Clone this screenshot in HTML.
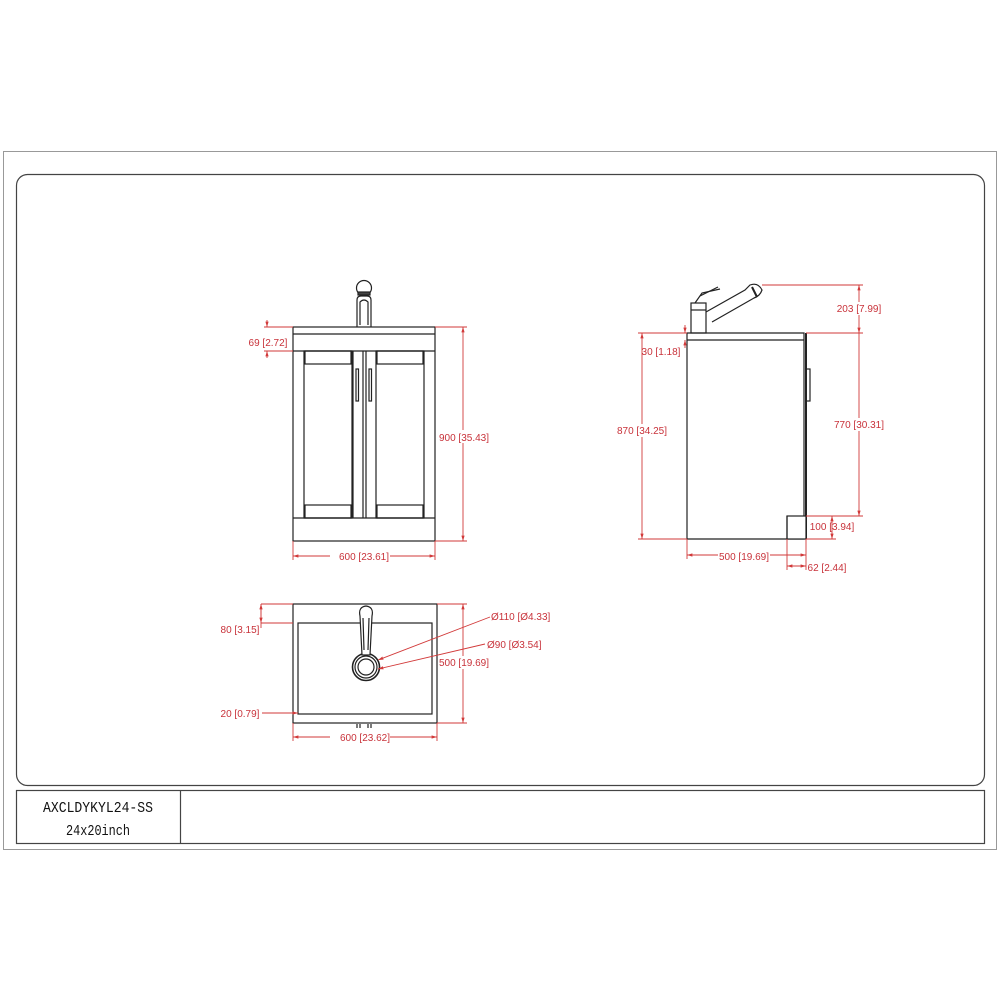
<!DOCTYPE html>
<html><head><meta charset="utf-8"><style>
html,body{margin:0;padding:0;background:#fff;}
svg{display:block;}
.r{fill:#c8323a;font-family:"Liberation Sans",sans-serif;font-size:10px;}
.d{stroke:#d23a3a;stroke-width:0.9;fill:none;}
.k{stroke:#222;stroke-width:1.2;fill:none;}
.t{font-family:"Liberation Mono",monospace;font-size:15px;fill:#111;}
</style></head><body>
<svg width="1000" height="1000" viewBox="0 0 1000 1000" xmlns="http://www.w3.org/2000/svg">
<defs>
<marker id="a" viewBox="0 0 10 10" refX="10" refY="5" markerWidth="6" markerHeight="6" orient="auto-start-reverse"><path d="M0,2 L10,5 L0,8z" fill="#d23a3a"/></marker>
</defs>
<rect x="3.5" y="151.5" width="993" height="698" fill="none" stroke="#999" stroke-width="1"/>
<rect x="16.5" y="174.5" width="968" height="611" rx="11" fill="none" stroke="#444" stroke-width="1.2"/>
<rect x="16.5" y="790.5" width="968" height="53" fill="none" stroke="#444" stroke-width="1.2"/>
<line x1="180.5" y1="790" x2="180.5" y2="843" stroke="#444" stroke-width="1.2"/>
<text class="t" x="98" y="812" text-anchor="middle" textLength="110" lengthAdjust="spacingAndGlyphs">AXCLDYKYL24-SS</text>
<text class="t" x="98" y="835" text-anchor="middle" textLength="64" lengthAdjust="spacingAndGlyphs">24x20inch</text>

<!-- FRONT VIEW -->
<g class="k">
<rect x="293" y="327" width="142" height="214"/>
<line x1="293" y1="334" x2="435" y2="334"/>
<line x1="293" y1="351" x2="435" y2="351"/>
<line x1="293" y1="518" x2="435" y2="518"/>
<rect x="304" y="351" width="48" height="167"/>
<rect x="305" y="351" width="46" height="13"/>
<rect x="305" y="505" width="46" height="13"/>
<rect x="376" y="351" width="48" height="167"/>
<rect x="377" y="351" width="46" height="13"/>
<rect x="377" y="505" width="46" height="13"/>
<line x1="353" y1="351" x2="353" y2="518"/>
<line x1="363" y1="351" x2="363" y2="518"/>
<line x1="366" y1="351" x2="366" y2="518"/>
<rect x="356" y="369" width="2.5" height="32"/>
<rect x="369" y="369" width="2.5" height="32"/>
<path d="M357,327 L357,300 Q357,296 361,296 L367,296 Q371,296 371,300 L371,327"/>
<path d="M360,325 L360,302 Q364,298 368,302 L368,325"/>
<circle cx="364" cy="288" r="7.5"/>
<rect x="358" y="292" width="12" height="3" fill="#444"/>
</g>
<g class="d">
<line x1="435" y1="327" x2="467" y2="327"/><line x1="435" y1="541" x2="467" y2="541"/>
<line x1="463" y1="327" x2="463" y2="541" marker-start="url(#a)" marker-end="url(#a)"/>
<line x1="293" y1="541" x2="293" y2="560"/><line x1="435" y1="541" x2="435" y2="560"/>
<line x1="293" y1="556" x2="435" y2="556" marker-start="url(#a)" marker-end="url(#a)"/>
<line x1="264" y1="327" x2="293" y2="327"/><line x1="264" y1="351" x2="293" y2="351"/>
<line x1="267" y1="320" x2="267" y2="327" marker-end="url(#a)"/>
<line x1="267" y1="358" x2="267" y2="351" marker-end="url(#a)"/>
</g>
<rect x="440" y="430" width="50" height="13" fill="#fff"/>
<text class="r" x="464" y="441" text-anchor="middle">900 [35.43]</text>
<rect x="330" y="550" width="60" height="13" fill="#fff"/>
<text class="r" x="364" y="560" text-anchor="middle">600 [23.61]</text>
<text class="r" x="268" y="346" text-anchor="middle">69 [2.72]</text>

<!-- SIDE VIEW -->
<g class="k">
<path d="M687,333 L804,333 L804,539 L687,539 Z"/>
<line x1="687" y1="340" x2="804" y2="340"/>
<line x1="806" y1="333" x2="806" y2="539" stroke-width="2"/>
<rect x="806" y="369" width="4" height="32"/>
<rect x="787" y="516" width="19" height="23" fill="#fff"/>
<line x1="787" y1="516" x2="787" y2="539"/>
<rect x="691" y="303" width="15" height="30"/>
<line x1="691" y1="310" x2="706" y2="310"/>
<path d="M706,312 L745,290 L750,285 Q758,282 762,290 Q760,296 754,298 L712,322"/>
<path d="M752,287 L757,297" stroke-width="2"/>
<path d="M695,303 L702,293 L720,289"/>
<path d="M700,296 L718,287"/>
</g>
<g class="d">
<line x1="762" y1="285" x2="863" y2="285"/><line x1="806" y1="333" x2="863" y2="333"/>
<line x1="859" y1="285" x2="859" y2="333" marker-start="url(#a)" marker-end="url(#a)"/>
<line x1="859" y1="333" x2="859" y2="516" marker-end="url(#a)"/>
<line x1="806" y1="516" x2="863" y2="516"/><line x1="806" y1="539" x2="836" y2="539"/>
<line x1="832" y1="516" x2="832" y2="539" marker-start="url(#a)" marker-end="url(#a)"/>
<line x1="638" y1="333" x2="687" y2="333"/><line x1="638" y1="539" x2="687" y2="539"/>
<line x1="642" y1="333" x2="642" y2="539" marker-start="url(#a)" marker-end="url(#a)"/>
<line x1="685" y1="325" x2="685" y2="333" marker-end="url(#a)"/>
<line x1="685" y1="348" x2="685" y2="340" marker-end="url(#a)"/>
<line x1="687" y1="539" x2="687" y2="559"/><line x1="806" y1="539" x2="806" y2="570"/>
<line x1="787" y1="539" x2="787" y2="570"/>
<line x1="687" y1="555" x2="806" y2="555" marker-start="url(#a)" marker-end="url(#a)"/>
<line x1="787" y1="566" x2="806" y2="566" marker-start="url(#a)" marker-end="url(#a)"/>
</g>
<rect x="834" y="302" width="50" height="13" fill="#fff"/>
<text class="r" x="859" y="312" text-anchor="middle">203 [7.99]</text>
<rect x="832" y="418" width="54" height="13" fill="#fff"/>
<text class="r" x="859" y="428" text-anchor="middle">770 [30.31]</text>
<text class="r" x="832" y="530" text-anchor="middle">100 [3.94]</text>
<rect x="617" y="424" width="52" height="13" fill="#fff"/>
<text class="r" x="642" y="434" text-anchor="middle">870 [34.25]</text>
<text class="r" x="661" y="355" text-anchor="middle">30 [1.18]</text>
<rect x="718" y="550" width="52" height="13" fill="#fff"/>
<text class="r" x="744" y="560" text-anchor="middle">500 [19.69]</text>
<text class="r" x="827" y="571" text-anchor="middle">62 [2.44]</text>

<!-- TOP VIEW -->
<g class="k">
<rect x="293" y="604" width="144" height="119"/>
<rect x="298" y="623" width="134" height="91"/>
<circle cx="366" cy="667" r="13.5" stroke-width="1.6"/>
<circle cx="366" cy="667" r="11"/>
<circle cx="366" cy="667" r="8"/>
<path d="M360,616 Q358,607 366,606 Q374,607 372,616 L370,655 L362,655 Z" fill="#fff"/>
<path d="M363,618 L364,650 M369,618 L368,650"/>
<line x1="357" y1="724" x2="357" y2="728"/><line x1="360" y1="724" x2="360" y2="728"/>
<line x1="368" y1="724" x2="368" y2="728"/><line x1="371" y1="724" x2="371" y2="728"/>
</g>
<g class="d">
<line x1="437" y1="604" x2="467" y2="604"/><line x1="437" y1="723" x2="467" y2="723"/>
<line x1="463" y1="604" x2="463" y2="723" marker-start="url(#a)" marker-end="url(#a)"/>
<line x1="293" y1="723" x2="293" y2="741"/><line x1="437" y1="723" x2="437" y2="741"/>
<line x1="293" y1="737" x2="437" y2="737" marker-start="url(#a)" marker-end="url(#a)"/>
<line x1="261" y1="604" x2="293" y2="604"/><line x1="261" y1="623" x2="293" y2="623"/>
<line x1="261" y1="604" x2="261" y2="628"/>
<line x1="261" y1="604" x2="261" y2="623" marker-start="url(#a)" marker-end="url(#a)"/>
<line x1="262" y1="713" x2="298" y2="713" marker-end="url(#a)"/>
<line x1="490" y1="617" x2="378" y2="660" marker-end="url(#a)"/>
<line x1="485" y1="644" x2="378" y2="669" marker-end="url(#a)"/>
</g>
<rect x="440" y="656" width="50" height="13" fill="#fff"/>
<text class="r" x="464" y="666" text-anchor="middle">500 [19.69]</text>
<rect x="330" y="731" width="60" height="13" fill="#fff"/>
<text class="r" x="365" y="741" text-anchor="middle">600 [23.62]</text>
<text class="r" x="240" y="633" text-anchor="middle">80 [3.15]</text>
<text class="r" x="240" y="717" text-anchor="middle">20 [0.79]</text>
<text class="r" x="491" y="620">Ø110 [Ø4.33]</text>
<text class="r" x="487" y="648">Ø90 [Ø3.54]</text>
</svg>
</body></html>
